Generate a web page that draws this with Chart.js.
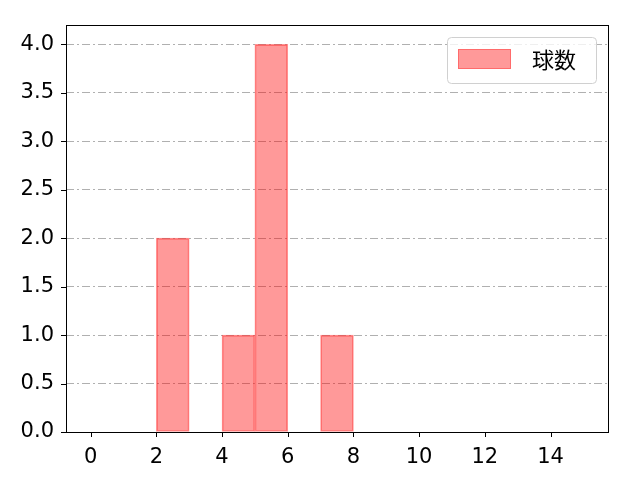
<!DOCTYPE html>
<html lang="ja">
<head>
    <meta charset="UTF-8">
    <title>球数</title>
    <style>
        html, body { margin: 0; padding: 0; background: #fff; }
        #grafico { display: block; }
    </style>
</head>
<body>
<canvas id="grafico" width="640" height="480"></canvas>

<script src="https://cdn.jsdelivr.net/npm/chart.js"></script>
<script>
    // Datos del histograma (bins de ancho 1, de 0 a 15)
    const binInicio = [0, 1, 2, 3, 4, 5, 6, 7, 8, 9, 10, 11, 12, 13, 14];
    const conteos   = [0, 0, 2, 0, 1, 4, 0, 1, 0, 0, 0, 0, 0, 0, 0];
    const ticksX = [0, 2, 4, 6, 8, 10, 12, 14];
    const ticksY = [0, 0.5, 1, 1.5, 2, 2.5, 3, 3.5, 4];
    const etiqueta = '球数';

    const fuente = '"DejaVu Sans", "Noto Sans CJK JP", sans-serif';
    const fuenteJP = '"Noto Sans CJK JP", sans-serif';

    const puntos = binInicio.map((b, i) => ({ x: b + 0.5, y: conteos[i] }));

    // Marco, marcas de los ejes y leyenda al estilo matplotlib
    const marcoPlugin = {
        id: 'marco',
        afterDraw(chart) {
            const ctx = chart.ctx;
            const a = chart.chartArea;
            const sx = chart.scales.x, sy = chart.scales.y;
            ctx.save();
            ctx.strokeStyle = '#000';
            ctx.lineWidth = 1;
            ctx.strokeRect(Math.round(a.left) + 0.5, Math.round(a.top) + 0.5,
                Math.round(a.right - a.left), Math.round(a.bottom - a.top));
            ctx.beginPath();
            ticksX.forEach(v => {
                const px = Math.round(sx.getPixelForValue(v)) + 0.5;
                ctx.moveTo(px, a.bottom); ctx.lineTo(px, a.bottom + 5);
            });
            ticksY.forEach(v => {
                const py = Math.round(sy.getPixelForValue(v)) + 0.5;
                ctx.moveTo(a.left, py); ctx.lineTo(a.left - 5, py);
            });
            ctx.stroke();

            // leyenda
            const lx = 447, ly = 37, lw = 149, lh = 46;
            ctx.fillStyle = 'rgba(255,255,255,0.8)';
            ctx.strokeStyle = '#d0d0d0';
            ctx.beginPath();
            ctx.roundRect(lx + 0.5, ly + 0.5, lw, lh, 4);
            ctx.fill();
            ctx.stroke();
            ctx.fillStyle = 'rgba(255,0,0,0.4)';
            ctx.fillRect(458, 49, 53, 20);
            ctx.strokeStyle = 'rgba(255,0,0,0.3)';
            ctx.strokeRect(458.5, 49.5, 52, 19);
            ctx.fillStyle = '#000';
            ctx.font = '22px ' + fuenteJP;
            ctx.textBaseline = 'middle';
            ctx.fillText(chart.data.datasets[0].label, 532, 60);
            ctx.restore();
        }
    };

    const ctx = document.getElementById('grafico').getContext('2d');
    new Chart(ctx, {
        type: 'bar',
        data: {
            datasets: [{
                label: etiqueta,
                data: puntos,
                backgroundColor: 'rgba(255,0,0,0.4)',
                borderColor: 'rgba(255,60,60,0.55)',
                borderWidth: 1,
                borderSkipped: false,
                barPercentage: 1,
                categoryPercentage: 1
            }]
        },
        options: {
            responsive: false,
            animation: false,
            layout: { padding: { left: 0, top: 25, right: 32, bottom: 0 } },
            plugins: {
                legend: { display: false },
                tooltip: { enabled: false }
            },
            scales: {
                x: {
                    type: 'linear',
                    offset: false,
                    min: -0.75,
                    max: 15.75,
                    afterBuildTicks: s => { s.ticks = ticksX.map(v => ({ value: v })); },
                    afterFit: s => { s.height = 48; },
                    grid: { display: false, offset: false },
                    border: { display: false },
                    ticks: {
                        color: '#000',
                        padding: 5,
                        font: { family: fuente, size: 21 }
                    }
                },
                y: {
                    min: 0,
                    max: 4.2,
                    afterBuildTicks: s => { s.ticks = ticksY.map(v => ({ value: v })); },
                    afterFit: s => { s.width = 66; },
                    grid: {
                        color: '#b0b0b0',
                        lineWidth: 1,
                        drawTicks: false
                    },
                    border: { display: false, dash: [8, 3, 2, 3] },
                    ticks: {
                        color: '#000',
                        padding: 12,
                        font: { family: fuente, size: 21 },
                        callback: v => v.toFixed(1)
                    }
                }
            }
        },
        plugins: [marcoPlugin]
    });
</script>
</body>
</html>
